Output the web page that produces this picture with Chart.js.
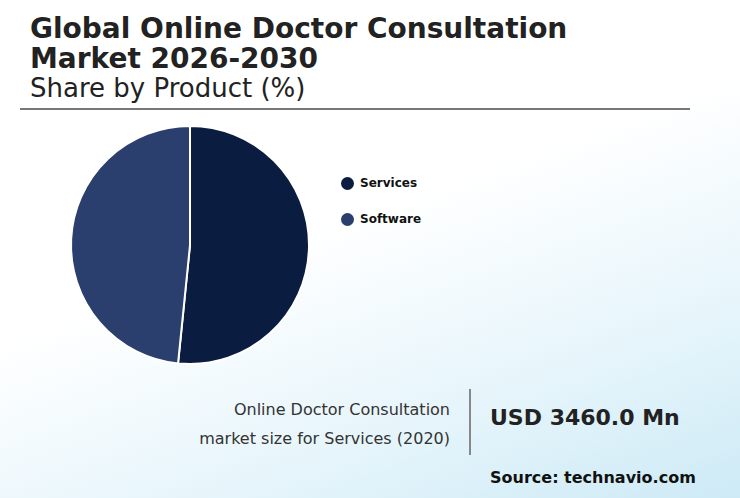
<!DOCTYPE html>
<html><head><meta charset="utf-8">
<script src="https://cdn.jsdelivr.net/npm/chart.js@4"></script>
<style>
body{margin:0;width:740px;height:498px;overflow:hidden;font-family:"DejaVu Sans",sans-serif;color:#222;
background:linear-gradient(160deg,#ffffff 0%,#ffffff 45%,#e6f5fb 75%,#cdeaf6 100%);position:relative}
#t{position:absolute;left:30px;top:14px;font-size:28px;font-weight:bold;line-height:30px;color:#222}
#s{position:absolute;left:30px;top:74px;font-size:26px;line-height:28px;color:#222}
#hr{position:absolute;left:20px;top:108px;width:670px;height:2px;background:#777}
#pc{position:absolute;left:68px;top:123px;width:244px;height:244px}
#lg{position:absolute;left:341px;top:174px;font-size:12px;font-weight:bold;color:#111}
.li{display:flex;align-items:center;height:18px;margin-bottom:18px}
.dot{width:13px;height:13px;border-radius:50%;margin-right:6px}
#m1{position:absolute;right:290px;top:395px;text-align:right;font-size:16px;line-height:29px;color:#333}
#vl{position:absolute;left:469px;top:389px;width:2px;height:66px;background:#888}
#m2{position:absolute;left:490px;top:405px;font-size:22px;font-weight:bold;color:#222}
#src{position:absolute;left:490px;top:468px;font-size:16px;font-weight:bold;color:#111}
</style></head><body>
<div id="t">Global Online Doctor Consultation<br>Market 2026-2030</div>
<div id="s">Share by Product (%)</div>
<div id="hr"></div>
<div id="pc"><canvas id="c"></canvas></div>
<div id="lg"></div>
<div id="m1">Online Doctor Consultation<br>market size for Services (2020)</div>
<div id="vl"></div>
<div id="m2">USD 3460.0 Mn</div>
<div id="src">Source: technavio.com</div>
<script>
const categories=["Services","Software"];
const shares=[51.6,48.4];
const colors=["#0a1c40","#2b3f6e"];
document.getElementById('lg').innerHTML=categories.map((c,i)=>`<div class="li"><div class="dot" style="background:${colors[i]}"></div>${c}</div>`).join('');
new Chart(document.getElementById('c'),{type:'pie',data:{labels:categories,datasets:[{data:shares,backgroundColor:colors,borderColor:'#fff',borderWidth:2}]},
options:{responsive:true,maintainAspectRatio:false,animation:false,layout:{padding:2},plugins:{legend:{display:false},tooltip:{enabled:false}}}});
</script></body></html>
